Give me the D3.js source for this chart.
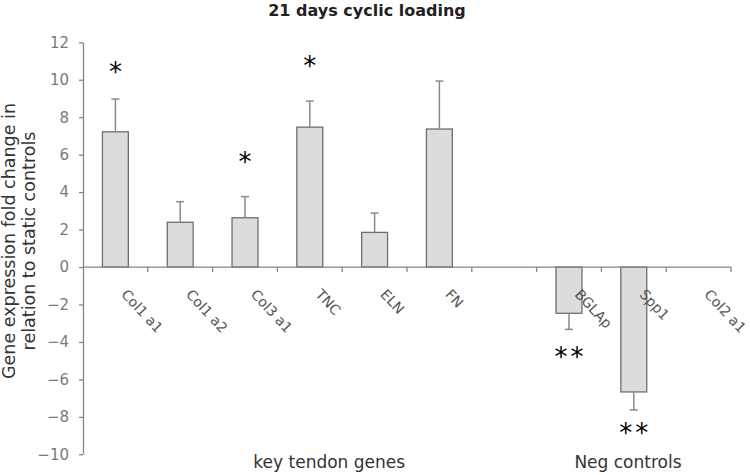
<!DOCTYPE html>
<html>
<head>
<meta charset="utf-8">
<script src="https://cdn.jsdelivr.net/npm/d3@7/dist/d3.min.js"></script>
<style>
  html, body { margin: 0; padding: 0; background: #fff; }
  svg { display: block; }
</style>
</head>
<body>
<script>
// ---- data ----
const categories = ["Col1 a1", "Col1 a2", "Col3 a1", "TNC", "ELN", "FN", "", "BGLAp", "Spp1", "Col2 a1"];
const values     = [7.22, 2.39, 2.63, 7.47, 1.85, 7.37, null, -2.47, -6.67, 0];
const errors     = [1.75, 1.10, 1.13, 1.39, 1.03, 2.56, null, 0.86, 0.96, 0];
const sigMarks   = ["*", "", "*", "*", "", "", "", "**", "**", ""];
const sigLevel   = [10.57, null, 5.77, 10.9, null, null, null, -4.64, -8.7, null];
const yTicks     = [-10, -8, -6, -4, -2, 0, 2, 4, 6, 8, 10, 12];
const groups     = ["key tendon genes", "Neg controls"];
const title      = "21 days cyclic loading";
const yTitle     = ["Gene expression fold change in", "relation to static controls"];

// ---- layout ----
const W = 750, H = 475;
const groupCenter = [3.8, 8.41]; // in slot units from the axis origin
const svg = d3.select("body").append("svg").attr("width", W).attr("height", H);

const keys = categories.map((c, i) => i);
const x = d3.scaleBand().domain(keys).range([83, 731]).paddingInner(0.6).paddingOuter(0.3);
const y = d3.scaleLinear().domain([-10, 12]).range([454.3, 42.3]);
const step = x.step();

const axisCol = "#868686";

// y axis
const yAxis = svg.append("g").attr("transform", "translate(83,0)")
  .call(d3.axisLeft(y).tickValues(yTicks).tickSize(4).tickPadding(10).tickSizeOuter(0));
yAxis.select(".domain").attr("stroke", axisCol).attr("stroke-width", 1.3);
yAxis.selectAll(".tick line").attr("stroke", axisCol).attr("stroke-width", 1.3);
yAxis.selectAll(".tick text")
  .attr("font-family", "DejaVu Sans, Verdana, sans-serif")
  .attr("font-size", 15).attr("fill", "#7a7a7a");

// bars
const bars = categories.map((c, i) => ({i, c, v: values[i], e: errors[i], s: sigMarks[i], sl: sigLevel[i]}));
const drawn = bars.filter(d => d.v !== null && d.v !== 0);

svg.append("g").selectAll("rect").data(drawn).join("rect")
  .attr("x", d => x(d.i))
  .attr("width", x.bandwidth())
  .attr("y", d => y(Math.max(0, d.v)))
  .attr("height", d => Math.abs(y(d.v) - y(0)))
  .attr("fill", "#dcdcdc")
  .attr("stroke", "#6e6e6e")
  .attr("stroke-width", 1.3);

// error bars (away from zero)
const eg = svg.append("g").attr("stroke", "#8a8a8a").attr("stroke-width", 1.5);
drawn.forEach(d => {
  const cx = x(d.i) + x.bandwidth() / 2;
  const end = d.v >= 0 ? d.v + d.e : d.v - d.e;
  eg.append("line").attr("x1", cx).attr("x2", cx).attr("y1", y(d.v)).attr("y2", y(end));
  eg.append("line").attr("x1", cx - 4).attr("x2", cx + 4).attr("y1", y(end)).attr("y2", y(end));
});

// x axis at zero
const xg = svg.append("g");
xg.append("line").attr("x1", 83).attr("x2", 731).attr("y1", y(0)).attr("y2", y(0))
  .attr("stroke", axisCol).attr("stroke-width", 1.3);
keys.forEach(k => {
  const bx = x(k) + x.bandwidth() / 2 + step / 2;
  xg.append("line").attr("x1", bx).attr("x2", bx).attr("y1", y(0)).attr("y2", y(0) + 5)
    .attr("stroke", axisCol).attr("stroke-width", 1.3);
});

// category labels
svg.append("g").selectAll("text").data(bars.filter(d => d.c)).join("text")
  .attr("transform", d => `translate(${x(d.i) + x.bandwidth() / 2 + 5},${y(0) + 28}) rotate(47)`)
  .attr("font-family", "DejaVu Sans, Verdana, sans-serif")
  .attr("font-size", 14).attr("fill", "#555")
  .text(d => d.c);

// significance marks
const starSize = 26;
svg.append("g").selectAll("text").data(bars.filter(d => d.s)).join("text")
  .attr("x", d => x(d.i) + x.bandwidth() / 2)
  .attr("y", d => y(d.sl) + starSize * 0.45)
  .attr("text-anchor", "middle")
  .attr("font-family", "DejaVu Sans, sans-serif")
  .attr("letter-spacing", d => d.s.length > 1 ? 3 : 0)
  .attr("dx", d => d.s.length > 1 ? 1.5 : 0)
  .attr("font-size", starSize).attr("fill", "#000")
  .text(d => d.s);

// group labels
groups.forEach((g, gi) => {
  svg.append("text").attr("x", 83 + groupCenter[gi] * step).attr("y", 468)
    .attr("text-anchor", "middle")
    .attr("font-family", "DejaVu Sans, Verdana, sans-serif")
    .attr("font-size", 17).attr("fill", "#333")
    .text(g);
});

// title
svg.append("text").attr("x", 367).attr("y", 16).attr("text-anchor", "middle")
  .attr("font-family", "DejaVu Sans, Verdana, sans-serif").attr("font-weight", "bold")
  .attr("font-size", 16).attr("fill", "#222").text(title);

// y title
yTitle.forEach((t, i) => {
  svg.append("text").attr("transform", `translate(${15 + i * 20},241) rotate(-90)`)
    .attr("text-anchor", "middle")
    .attr("font-family", "DejaVu Sans, Verdana, sans-serif")
    .attr("font-size", 17.5).attr("fill", "#333")
    .text(t);
});
</script>
</body>
</html>
